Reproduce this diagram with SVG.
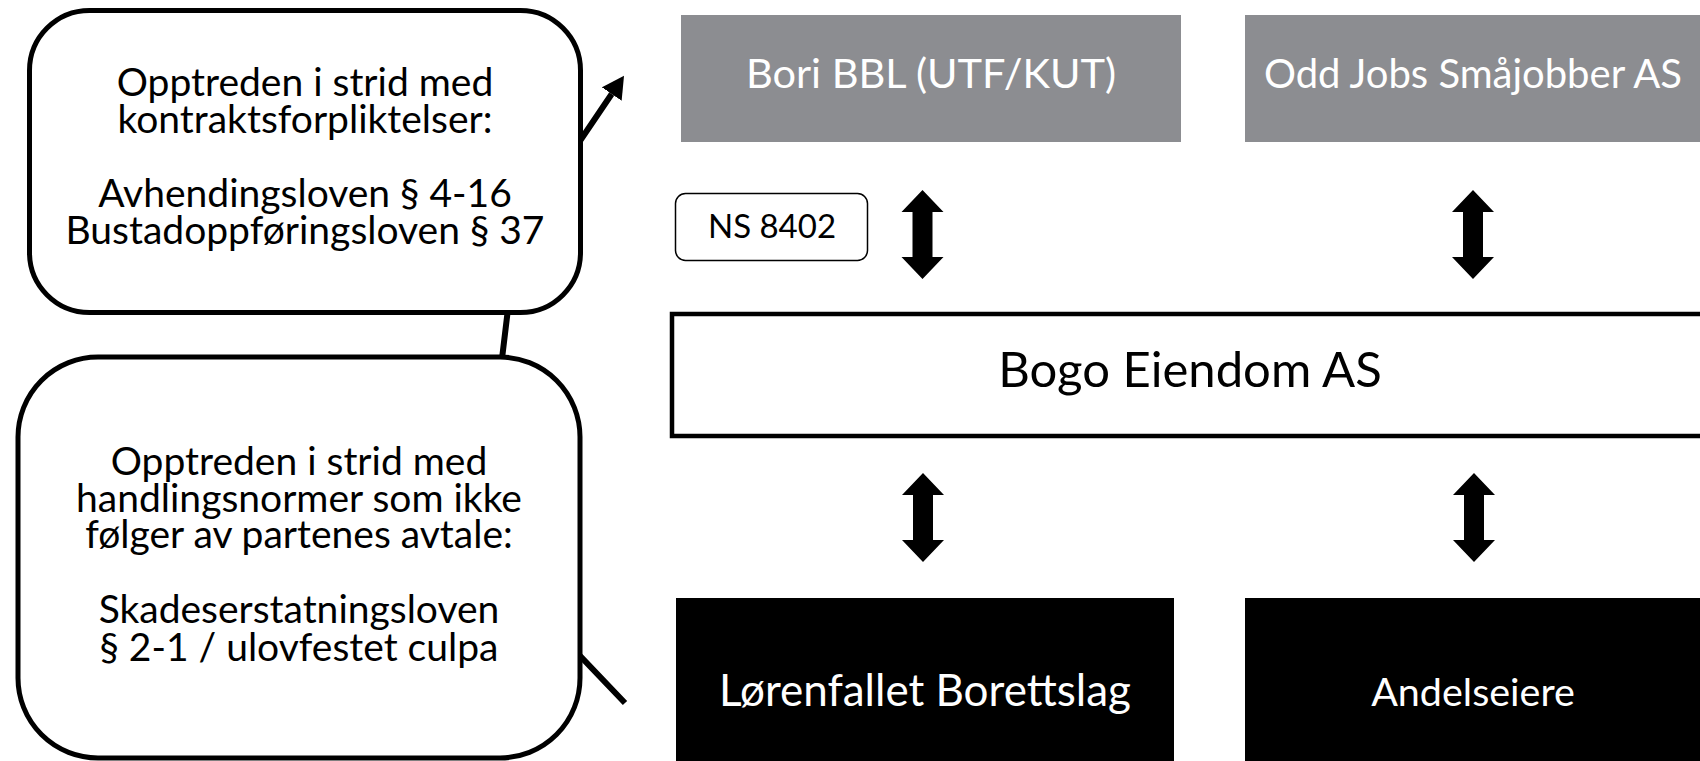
<svg xmlns="http://www.w3.org/2000/svg" width="1700" height="761" viewBox="0 0 1700 761">
<style>
.t{font-family:Lato,"Open Sans","Liberation Sans",sans-serif;text-anchor:middle}
.call{font-size:39px;fill:#000}
.grey{fill:#8c8d91}
.callout{fill:#fff;stroke:#000;stroke-width:5}
.conn{fill:none;stroke:#000;stroke-width:6;stroke-linejoin:round}
</style>
<defs>
<path id="dbl" d="M0,0 L21,22 L10,22 L10,67 L21,67 L0,89 L-21,67 L-10,67 L-10,22 L-21,22 Z" fill="#000"/>
<marker id="ah" markerUnits="userSpaceOnUse" viewBox="0 0 22 24" refX="0" refY="12" markerWidth="22" markerHeight="24" orient="auto">
<path d="M0,0 L22,12 L0,24 Z" fill="#000"/>
</marker>
</defs>
<g id="connectors">
<path class="conn" d="M625,703 L479,550 L517,234 L611.7,94" marker-end="url(#ah)"/>
<use href="#dbl" x="922.5" y="190"/>
<use href="#dbl" x="1473" y="190"/>
<use href="#dbl" x="923" y="473"/>
<use href="#dbl" x="1474" y="473"/>
</g>
<g id="callout-kontrakt">
<rect class="callout" x="29.5" y="10.5" width="551" height="302" rx="60"/>
<text class="t call" x="305" y="96">Opptreden i strid med</text>
<text class="t call" x="305" y="133">kontraktsforpliktelser:</text>
<text class="t call" x="305" y="207">Avhendingsloven § 4-16</text>
<text class="t call" x="305" y="244">Bustadoppføringsloven § 37</text>
</g>
<g id="callout-culpa">
<rect class="callout" x="18" y="357" width="562" height="401" rx="80"/>
<text class="t call" x="299" y="475">Opptreden i strid med</text>
<text class="t call" x="299" y="512">handlingsnormer som ikke</text>
<text class="t call" x="299" y="548">følger av partenes avtale:</text>
<text class="t call" x="299" y="623">Skadeserstatningsloven</text>
<text class="t call" x="299" y="661">§ 2-1 / ulovfestet culpa</text>
</g>
<g id="bori">
<rect class="grey" x="681" y="15" width="500" height="127"/>
<text class="t" x="931" y="88" font-size="41.5" fill="#fff">Bori BBL (UTF/KUT)</text>
</g>
<g id="oddjobs">
<rect class="grey" x="1245" y="15" width="456" height="127"/>
<text class="t" x="1473" y="88" font-size="40" fill="#fff">Odd Jobs Småjobber AS</text>
</g>
<g id="ns8402">
<rect x="675.5" y="193.5" width="192" height="67" rx="10" fill="#fff" stroke="#000" stroke-width="1.5"/>
<text class="t" x="772" y="238" font-size="33">NS 8402</text>
</g>
<g id="bogo">
<rect x="672" y="314" width="1040" height="122" fill="#fff" stroke="#000" stroke-width="4.5"/>
<text class="t" x="1190" y="387" font-size="49">Bogo Eiendom AS</text>
</g>
<g id="lorenfallet">
<rect x="676" y="598" width="498" height="170" fill="#000"/>
<text class="t" x="925" y="706" font-size="44" fill="#fff">Lørenfallet Borettslag</text>
</g>
<g id="andelseiere">
<rect x="1245" y="598" width="456" height="170" fill="#000"/>
<text class="t" x="1473" y="706" font-size="39.5" fill="#fff">Andelseiere</text>
</g>
</svg>
